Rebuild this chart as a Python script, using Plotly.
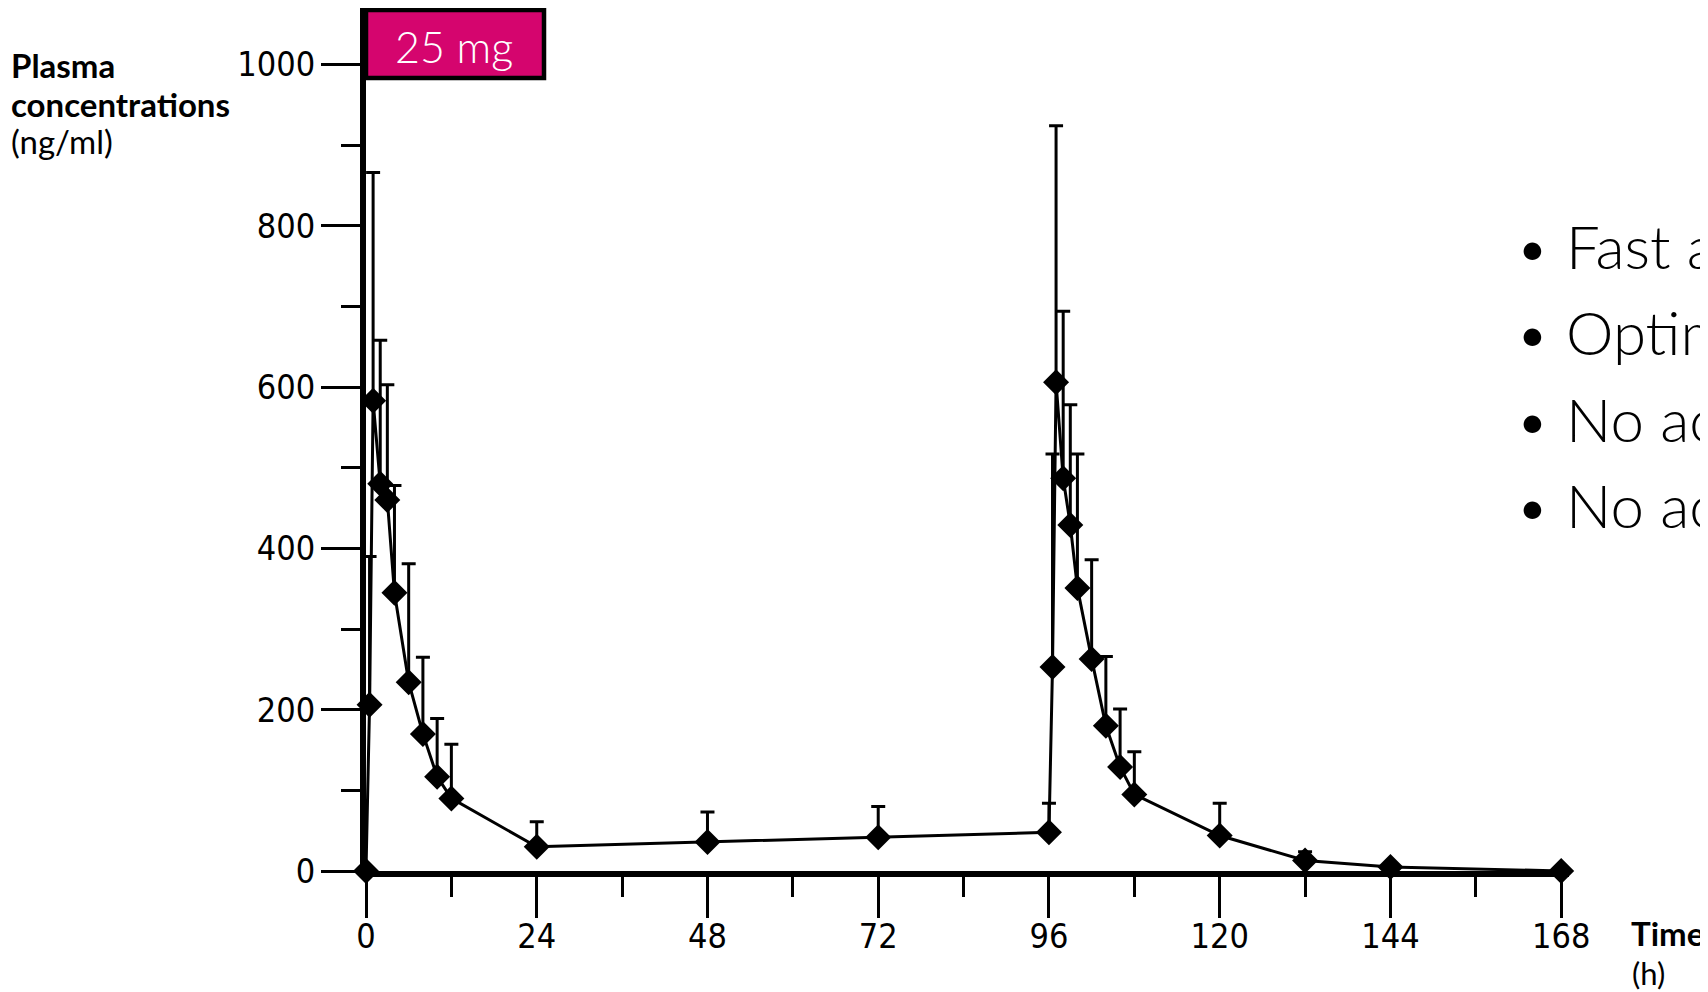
import plotly.graph_objects as go

# ---- data ----
time_h = [0, 0.5, 1, 2, 3, 4, 6, 8, 10, 12, 24, 48, 72, 96,
          96.5, 97, 98, 99, 100, 102, 104, 106, 108, 120, 132, 144, 168]
mean_conc = [0, 206, 583, 480, 460, 345, 234, 170, 117, 90, 30, 36, 42, 48,
             253, 606, 487, 429, 351, 263, 180, 129, 95, 44, 13, 5, 0]
upper_sd = [0, 184, 283, 178, 143, 133, 147, 95, 72, 67, 31, 37, 38, 36,
            264, 318, 207, 149, 166, 123, 86, 72, 53, 40, 11, 0, 0]

x_major_ticks = [0, 24, 48, 72, 96, 120, 144, 168]
y_major_ticks = [0, 200, 400, 600, 800, 1000]
dose_label = "25 mg"
bullets = ["• Fast a", "• Optim", "• No ac", "• No ac"]

# page has an 8px body margin, so the figure is drawn 8px in from the corner
OFF = 8
W, H = 1700, 984
ML, MR, MT, MB = 358, 139, 0, 121
PW, PH = W - ML - MR, H - MT - MB


def px(page_x):
    return (page_x - OFF - ML) / PW


def py(page_y):
    return (H - MB - (page_y - OFF)) / PH


TICK_FONT = dict(family="DejaVu Sans Condensed", size=34, color="black")
MAGENTA = "#d5056e"

fig = go.Figure()
fig.add_trace(go.Scatter(
    x=time_h, y=mean_conc, mode="lines+markers",
    line=dict(color="black", width=3),
    marker=dict(symbol="diamond", size=20, color="black"),
    error_y=dict(type="data", symmetric=False, array=upper_sd,
                 arrayminus=[0] * len(upper_sd), color="black",
                 thickness=3, width=7),
    cliponaxis=False, showlegend=False,
))

fig.update_xaxes(
    range=[0, 169.1], tickvals=x_major_ticks, ticks="outside", ticklen=41,
    tickwidth=3, tickcolor="black", showline=True, linewidth=6,
    linecolor="black", showgrid=False, zeroline=False, tickfont=TICK_FONT,
    minor=dict(dtick=12, tick0=0, ticks="outside", ticklen=20, tickwidth=3,
               tickcolor="black", showgrid=False),
    ticklabelstandoff=-11,
)
fig.update_yaxes(
    range=[0, 1070], tickvals=y_major_ticks, ticks="outside", ticklen=39,
    tickwidth=3, tickcolor="black", showline=True, linewidth=6,
    linecolor="black", showgrid=False, zeroline=False, tickfont=TICK_FONT,
    minor=dict(dtick=100, tick0=0, ticks="outside", ticklen=19, tickwidth=3,
               tickcolor="black", showgrid=False),
    ticklabelstandoff=-1,
)

# dose box
fig.add_shape(type="rect", xref="paper", yref="paper",
              x0=px(366), x1=px(544), y0=py(78), y1=py(10),
              fillcolor=MAGENTA, line=dict(color="black", width=4.5),
              layer="above")
fig.add_annotation(xref="paper", yref="paper", x=px(454), y=py(46),
                   text=dose_label, showarrow=False, xanchor="center",
                   yanchor="middle",
                   font=dict(family="Lato", size=43, color="white", weight=300))

# axis titles
TITLE_B = dict(family="Lato", size=33, color="black", weight="bold")
TITLE_R = dict(family="Lato", size=33, color="black")
for txt, yc, f in [("Plasma", 64.5, TITLE_B), ("concentrations", 103.8, TITLE_B),
                   ("(ng/ml)", 140.8, TITLE_R)]:
    fig.add_annotation(xref="paper", yref="paper", x=px(10), y=py(yc),
                       text=txt, showarrow=False, xanchor="left",
                       yanchor="middle", font=f, borderpad=0)
fig.add_annotation(xref="paper", yref="paper", x=px(1630), y=py(933),
                   text="Time", showarrow=False, xanchor="left",
                   yanchor="middle", font=TITLE_B, borderpad=0)
fig.add_annotation(xref="paper", yref="paper", x=px(1631), y=py(973),
                   text="(h)", showarrow=False, xanchor="left",
                   yanchor="middle", borderpad=0,
                   font=dict(family="Lato", size=31, color="black"))

# bullet list on the right (cut off by the page edge in the reference)
for i, b in enumerate(bullets):
    fig.add_annotation(xref="paper", yref="paper", x=px(1513),
                       y=py(246 + 86.4 * i), text=b, showarrow=False,
                       xanchor="left", yanchor="middle",
                       font=dict(family="Lato", size=60, color="black",
                                 weight=300))

fig.update_layout(
    width=W, height=H, margin=dict(l=ML, r=MR, t=MT, b=MB),
    plot_bgcolor="white", paper_bgcolor="white",
)

fig.write_html("out.html")
